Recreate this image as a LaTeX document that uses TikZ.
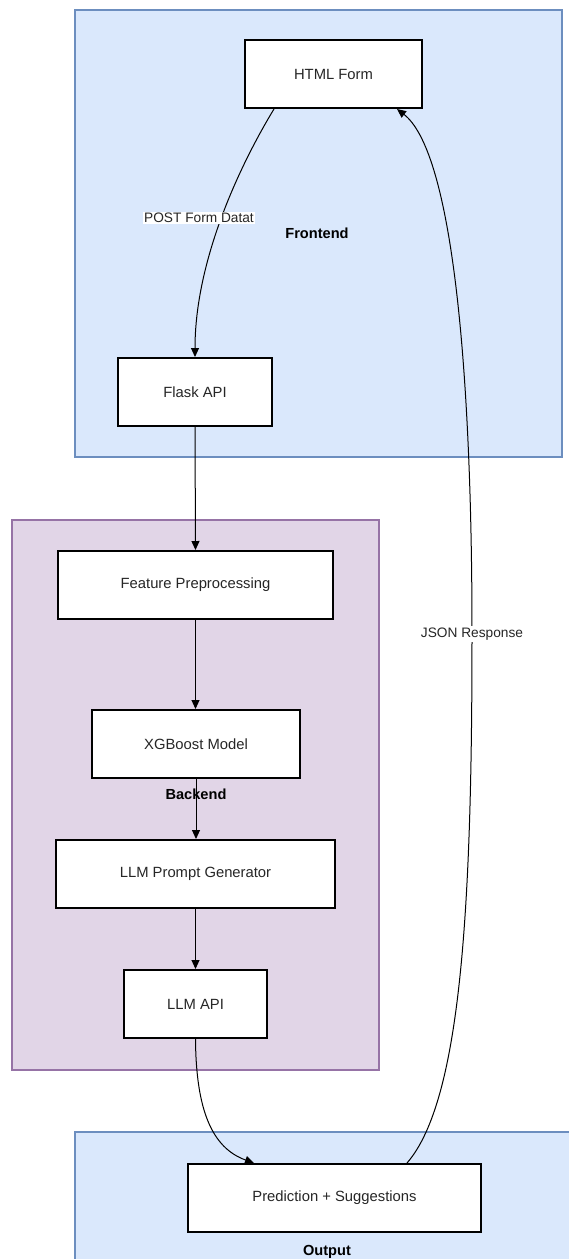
\documentclass[tikz,border=0pt]{standalone}
\usepackage{fontspec}
\setmainfont{Liberation Sans}
\usetikzlibrary{arrows.meta}
\definecolor{feFill}{HTML}{DAE8FC}
\definecolor{feStroke}{HTML}{6C8EBF}
\definecolor{beFill}{HTML}{E1D5E7}
\definecolor{beStroke}{HTML}{9673A6}
\tikzset{
  blockbox/.style={draw=black, line width=2pt, fill=white, rectangle, minimum height=68pt, inner sep=0pt, font=\fontsize{14.8}{17}\selectfont, text=black!85},
  feframe/.style={draw=feStroke, fill=feFill, line width=1.5pt},
  beframe/.style={draw=beStroke, fill=beFill, line width=1.5pt},
  grouplabel/.style={font=\bfseries\fontsize{14.6}{17}\selectfont, inner sep=0pt},
  edgelabel/.style={font=\fontsize{13.7}{16}\selectfont, fill=white, inner sep=1.5pt, text=black!85},
  flow/.style={draw=black, line width=1pt, -{Triangle[length=9pt,width=8pt]}},
}
\begin{document}
\begin{tikzpicture}[x=1pt,y=-1pt]
\useasboundingbox (0,0) rectangle (569,1259);
\clip (0,0) rectangle (569,1259);
% containers
\draw[feframe] (75,10) rectangle (562,457);
\draw[beframe] (12,520) rectangle (379,1070);
\draw[feframe] (75,1132) rectangle (580,1280);
% group labels
\node[grouplabel] (felabel) at (317,233) {Frontend};
\node[grouplabel] (outlabel) at (327,1252) {Output};
% nodes
\node[blockbox, minimum width=177pt] (html) at (333.5,74) {HTML Form};
\node[blockbox, minimum width=154pt] (flask) at (195,392) {Flask API};
\node[blockbox, minimum width=275pt] (feat) at (195.5,585) {Feature Preprocessing};
\node[blockbox, minimum width=208pt] (xgb) at (196,744) {XGBoost Model};
\node[blockbox, minimum width=279pt] (prompt) at (195.5,874) {LLM Prompt Generator};
\node[blockbox, minimum width=143pt] (llm) at (195.5,1004) {LLM API};
\node[blockbox, minimum width=293pt] (pred) at (334.5,1198) {Prediction + Suggestions};
% backend label (line drawn over it)
\node[grouplabel] (belabel) at (196,794) {Backend};
% connectors
\draw[flow] ([xshift=30pt]html.south west) .. controls (240,165) and (195,260) .. (flask.north);
\draw[flow] (flask.south) -- (feat.north);
\draw[flow] (feat.south) -- (feat.south |- xgb.north);
\draw[flow] (xgb.south) -- (xgb.south |- prompt.north);
\draw[flow] (prompt.south) -- (prompt.south |- llm.north);
\draw[flow] (llm.south) .. controls (196,1110) and (212,1148) .. ([xshift=67pt]pred.north west);
\coordinate (jsonmid) at (472,634);
\draw[flow] ([xshift=220pt]pred.north west) .. controls (462,1100) and (472,900) .. (jsonmid) .. controls (472,350) and (450,150) .. ([xshift=153pt]html.south west);
% edge labels
\node[edgelabel] (postlbl) at (199,218) {POST Form Datat};
\node[edgelabel] (jsonlbl) at (jsonmid) {JSON Response};
\end{tikzpicture}
\end{document}
